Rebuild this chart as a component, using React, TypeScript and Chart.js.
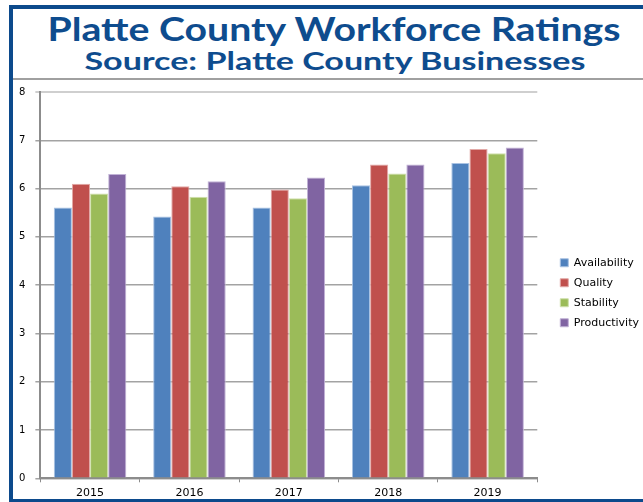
import React, { useEffect, useLayoutEffect, useRef } from "react";
import { Chart, registerables } from "chart.js";

Chart.register(...registerables);

const titleText = "Platte County Workforce Ratings";
const subtitleText = "Source: Platte County Businesses";
const categories = ["2015", "2016", "2017", "2018", "2019"];
const seriesNames = ["Availability", "Quality", "Stability", "Productivity"];
const availability = [5.61, 5.42, 5.61, 6.07, 6.53];
const quality = [6.1, 6.05, 5.98, 6.5, 6.82];
const stability = [5.9, 5.83, 5.8, 6.31, 6.73];
const productivity = [6.3, 6.15, 6.23, 6.5, 6.85];
const yTicks = [0, 1, 2, 3, 4, 5, 6, 7, 8];

const colors = ["#4f81bd", "#c0504d", "#9bbb59", "#8064a2"];
const borderColors = ["#a9c2e3", "#e2a9a7", "#cfe0ad", "#c1b2d6"];

function FitText(props: { text: string; width: number; size: number; top: number; center: number }) {
  const ref = useRef<HTMLSpanElement>(null);
  useLayoutEffect(() => {
    const el = ref.current;
    if (!el) return;
    el.style.transform = "none";
    const w = el.getBoundingClientRect().width;
    const s = props.width / w;
    el.style.transform = `scaleX(${s}) translateX(-50%)`;
  }, [props.text, props.width]);
  return (
    <span
      ref={ref}
      style={{
        position: "absolute",
        left: props.center,
        top: props.top,
        fontFamily: "Lato, 'Open Sans', sans-serif",
        fontWeight: 700,
        fontSize: props.size,
        lineHeight: `${props.size}px`,
        color: "#0e4c8e",
        whiteSpace: "nowrap",
        transformOrigin: "0 0",
        display: "inline-block",
      }}
    >
      {props.text}
    </span>
  );
}

const legendShift = {
  id: "legendShift",
  afterLayout(chart: any) {
    const lg = chart.legend;
    if (!lg) return;
    lg.left += 14;
    lg.right += 14;
    lg.top -= 5;
    lg.bottom -= 5;
  },
};

export default function App() {
  const canvasRef = useRef<HTMLCanvasElement>(null);

  useEffect(() => {
    if (!canvasRef.current) return;
    const data = [availability, quality, stability, productivity];
    const chart = new Chart(canvasRef.current, {
      type: "bar",
      data: {
        labels: categories,
        datasets: seriesNames.map((name, i) => ({
          label: name,
          data: data[i],
          backgroundColor: colors[i],
          borderColor: borderColors[i],
          borderWidth: 1,
          categoryPercentage: 0.73,
          barPercentage: 1.0,
        })),
      },
      options: {
        animation: false,
        responsive: false,
        maintainAspectRatio: false,
        layout: { padding: { left: 9, top: 92, bottom: 6.5, right: 8 } },
        font: { family: "'DejaVu Sans'" },
        plugins: {
          title: { display: false },
          tooltip: { enabled: false },
          legend: {
            position: "right",
            align: "center",
            labels: {
              boxWidth: 8,
              boxHeight: 8,
              padding: 9,
              color: "#000",
              font: { family: "'DejaVu Sans'", size: 11 },
            },
          },
        },
        scales: {
          x: {
            offset: true,
            grid: {
              drawOnChartArea: false,
              drawTicks: true,
              tickLength: 4,
              color: "#8c8c8c",
              lineWidth: 1,
            },
            border: { display: true, color: "#8c8c8c", width: 2 },
            ticks: {
              color: "#000",
              padding: 4,
              font: { family: "'DejaVu Sans'", size: 11 },
            },
          },
          y: {
            min: 0,
            max: 8,
            afterBuildTicks: (axis: any) => {
              axis.ticks = yTicks.map((v) => ({ value: v }));
            },
            grid: {
              color: (ctx: any) => (ctx.tick && ctx.tick.value === 8 ? "#cfcfcf" : "#a3a3a3"),
              lineWidth: (ctx: any) => (ctx.tick && ctx.tick.value === 8 ? 2 : 1.5),
              tickLength: 5,
            },
            border: { display: true, color: "#8c8c8c", width: 2 },
            ticks: {
              color: "#000",
              padding: 10,
              font: { family: "'DejaVu Sans'", size: 10 },
            },
          },
        },
      },
      plugins: [legendShift],
    });
    return () => chart.destroy();
  }, []);

  return (
    <div
      style={{
        position: "fixed",
        left: 0,
        top: 0,
        width: 643,
        height: 502,
        overflow: "hidden",
        background: "#fff",
      }}
    >
      <div
        style={{
          position: "absolute",
          left: 9,
          top: 5,
          width: 700,
          height: 498,
          boxSizing: "border-box",
          border: "4px solid #0c4a8c",
        }}
      />
      <div
        style={{
          position: "absolute",
          left: 13,
          top: 78,
          width: 640,
          height: 2,
          background: "#a0a0a0",
        }}
      />
      <FitText text={titleText} width={573} size={32} top={12.6} center={333.5} />
      <FitText text={subtitleText} width={501} size={25} top={47.8} center={334.5} />
      <canvas
        ref={canvasRef}
        width={643}
        height={510}
        style={{ position: "absolute", left: 0, top: 0, width: 643, height: 510 }}
      />
    </div>
  );
}
